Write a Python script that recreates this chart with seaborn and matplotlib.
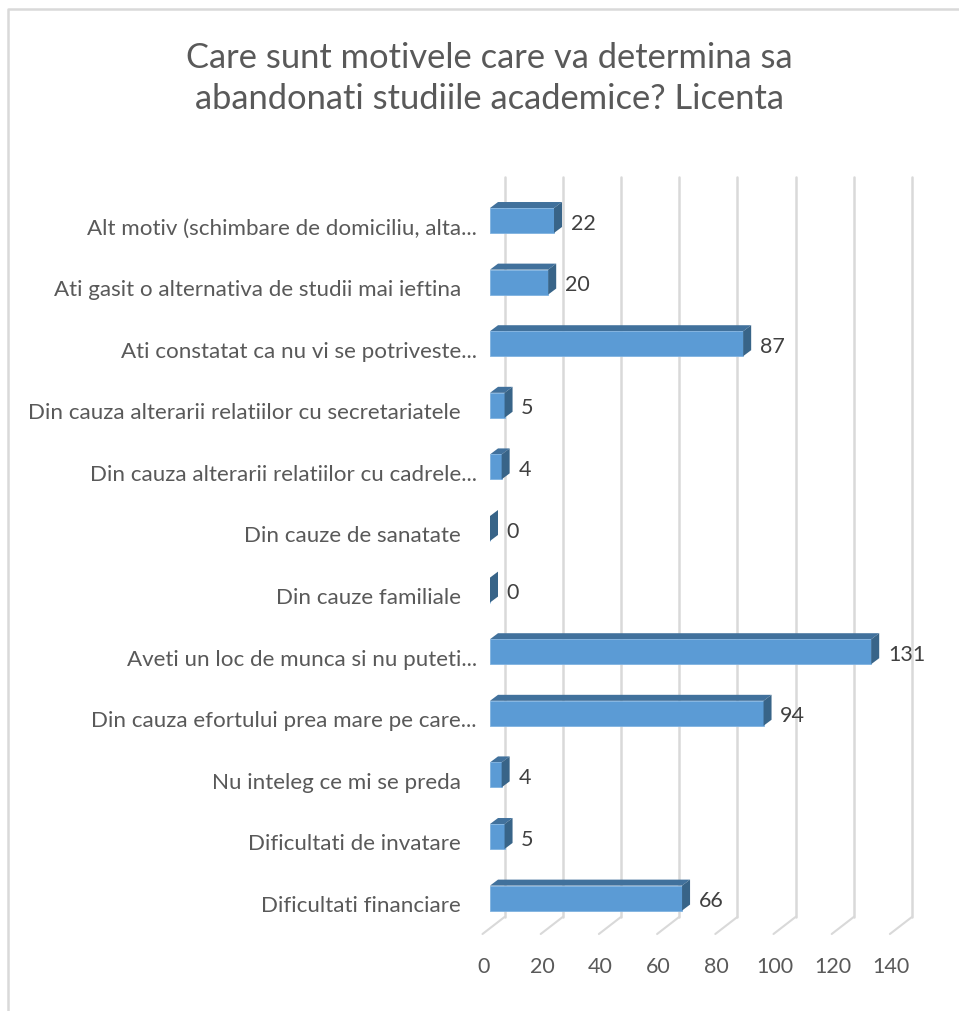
"""Horizontal pseudo-3D bars: reasons for dropping out, bachelor level."""
import matplotlib
matplotlib.use('Agg')
import matplotlib.pyplot as plt
from matplotlib.lines import Line2D
from matplotlib.patches import Polygon
from matplotlib.transforms import ScaledTranslation
import seaborn as sns

categories = [
    'Alt motiv (schimbare de domiciliu, alta...',
    'Ati gasit o alternativa de studii mai ieftina',
    'Ati constatat ca nu vi se potriveste...',
    'Din cauza alterarii relatiilor cu secretariatele',
    'Din cauza alterarii relatiilor cu cadrele...',
    'Din cauze de sanatate',
    'Din cauze familiale',
    'Aveti un loc de munca si nu puteti...',
    'Din cauza efortului prea mare pe care...',
    'Nu inteleg ce mi se preda',
    'Dificultati de invatare',
    'Dificultati financiare',
]
values = [22, 20, 87, 5, 4, 0, 0, 131, 94, 4, 5, 66]
x_ticks = [0, 20, 40, 60, 80, 100, 120, 140]
title = 'Care sunt motivele care va determina sa\nabandonati studiile academice? Licenta'

W, H = 959, 1012
GRAY = '#595959'
GRID = '#D9D9D9'

sns.set_theme(style='white')
plt.rcParams['font.family'] = ['Lato', 'DejaVu Sans']


def px_offset(fig, dx, dy):
    # dx, dy in image pixels (dy positive = up)
    return ScaledTranslation(dx / fig.dpi, dy / fig.dpi, fig.dpi_scale_trans)


fig = plt.figure(figsize=(W / 100, H / 100), dpi=100)
left, right, top, bottom = 490, 920, 178, 918
ax = fig.add_axes([left / W, 1 - bottom / H, (right - left) / W, (bottom - top) / H])

sns.barplot(x=values, y=categories, orient='h', color='#5B9BD5', saturation=1,
            width=0.405, ax=ax, zorder=3)
ax.set_xlim(0, (right - left) / 2.91)
ax.set_ylim(11.307, -0.706)
ax.set_xlabel('')
ax.set_ylabel('')
sns.despine(ax=ax, left=True, bottom=True, top=True, right=True)
ax.patch.set_alpha(0)

# back wall gridlines and floor ticks, offset from the value scale
wall = ax.get_xaxis_transform() + px_offset(fig, 14.5, 0)
for v in x_ticks:
    ax.plot([v, v], [0, 1], transform=wall, color=GRID, lw=1.8, zorder=1, clip_on=False)
    x0, y0 = ax.get_xaxis_transform().transform((v, 0))
    front = ax.transAxes.inverted().transform((x0 - 7.5, y0 - 17))
    back = ax.transAxes.inverted().transform((x0 + 14.5, y0))
    ax.plot([front[0], back[0]], [front[1], back[1]], transform=ax.transAxes,
            color=GRID, lw=1.5, zorder=1, clip_on=False)

# top and side faces of each bar
depth_x, depth_y = 8, 6
inv = ax.transData.inverted()
for bar in list(ax.patches):
    bar.set_edgecolor('#7FB2E0')
    bar.set_linewidth(0.6)
    x0, y0 = ax.transData.transform((bar.get_x(), bar.get_y() + bar.get_height()))
    x1, y1 = ax.transData.transform((bar.get_x() + bar.get_width(), bar.get_y()))
    top_face = [(x0, y1), (x1, y1), (x1 + depth_x, y1 + depth_y), (x0 + depth_x, y1 + depth_y)]
    side_face = [(x1, y0), (x1, y1), (x1 + depth_x, y1 + depth_y), (x1 + depth_x, y0 + depth_y)]
    ax.add_patch(Polygon(inv.transform(top_face), closed=True, fc='#41719C', ec='none',
                         zorder=2.9, clip_on=False))
    ax.add_patch(Polygon(inv.transform(side_face), closed=True, fc='#386488', ec='none',
                         zorder=3.1, clip_on=False))

bar_texts = ax.bar_label(ax.containers[0], labels=[str(v) for v in values], padding=12,
                         fontsize=15.5, color='#404040', zorder=5)
for t in bar_texts:
    t.xyann = (t.xyann[0], t.xyann[1] - 1.5)

# axes labels
ax.set_xticks(x_ticks)
ax.set_xticklabels([str(v) for v in x_ticks], fontsize=15.5, color=GRAY)
ax.tick_params(axis='x', length=0, pad=28)
for lab in ax.get_xticklabels():
    lab.set_transform(lab.get_transform() + px_offset(fig, -6, 0))
ax.tick_params(axis='y', length=0, pad=9.5)
ax.set_yticks(range(len(categories)))
ax.set_yticklabels(categories, fontsize=16.1, color=GRAY)
for lab in ax.get_yticklabels():
    # labels without the ellipsis stop a bit further left
    dx = 0 if lab.get_text().endswith('...') else -16
    lab.set_transform(lab.get_transform() + px_offset(fig, dx, -5))

fig.text(489 / W, 1 - 78.5 / H, title, ha='center', va='center', fontsize=24.8,
         color=GRAY, linespacing=1.35)

# chart frame
fig.add_artist(Line2D([8 / W, 8 / W, 1], [0, 1 - 10 / H, 1 - 10 / H], color=GRID, lw=1.8))

fig.savefig('out.png', dpi=100, facecolor='white')
